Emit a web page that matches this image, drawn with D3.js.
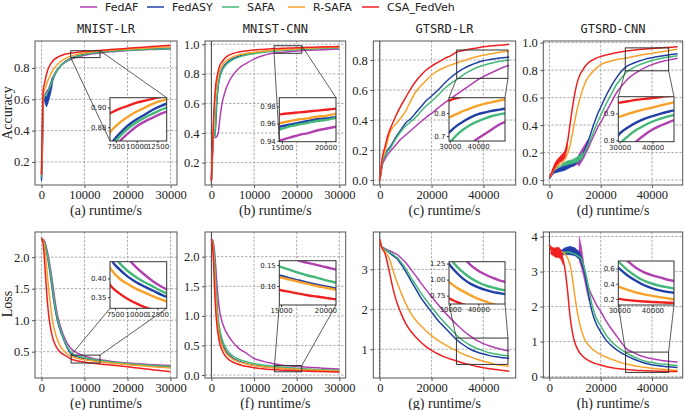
<!DOCTYPE html>
<html><head><meta charset="utf-8">
<script src="https://cdn.jsdelivr.net/npm/d3@7"></script>
<style>body{margin:0;background:#fff} svg{display:block}</style>
</head><body>
<svg id="c" width="685" height="410"></svg>
<script>
// ---------------- DATA ----------------
const seriesNames = ["FedAF","FedASY","SAFA","R-SAFA","CSA_FedVeh"];
const panelTitles = ["MNIST-LR","MNIST-CNN","GTSRD-LR","GTSRD-CNN"];
const xLabels = ["(a) runtime/s","(b) runtime/s","(c) runtime/s","(d) runtime/s","(e) runtime/s","(f) runtime/s","(g) runtime/s","(h) runtime/s"];
const yLabels = ["Accuracy","Loss"];

// (a) MNIST-LR accuracy
const aX      = [0,200,400,700,1000,1500,2000,2500,3000,4000,5000,6000,7000,8000,9000,10000,11000,12000,13000,14000,16000,18000,20000,22500,25000,27500,30000];
const aFedAF  = [0.10,0.30,0.58,0.62,0.64,0.66,0.69,0.73,0.76,0.80,0.826,0.843,0.856,0.866,0.874,0.881,0.886,0.890,0.894,0.897,0.903,0.907,0.911,0.914,0.917,0.919,0.921];
const aFedASY = [0.08,0.25,0.58,0.60,0.58,0.62,0.66,0.71,0.75,0.80,0.83,0.850,0.864,0.874,0.882,0.888,0.893,0.898,0.902,0.905,0.909,0.913,0.916,0.919,0.922,0.924,0.926];
const aSAFA   = [0.10,0.30,0.58,0.62,0.63,0.65,0.68,0.72,0.755,0.80,0.828,0.847,0.861,0.871,0.879,0.885,0.890,0.894,0.898,0.901,0.906,0.910,0.913,0.916,0.919,0.921,0.923];
const aRSAFA  = [0.12,0.35,0.62,0.66,0.68,0.72,0.75,0.78,0.80,0.83,0.852,0.866,0.877,0.885,0.891,0.896,0.900,0.904,0.907,0.909,0.913,0.917,0.920,0.924,0.928,0.932,0.936];
const aCSA    = [0.12,0.45,0.66,0.70,0.74,0.79,0.82,0.84,0.855,0.872,0.883,0.890,0.895,0.899,0.902,0.905,0.907,0.909,0.911,0.913,0.917,0.921,0.925,0.930,0.935,0.940,0.945];
// noisy band of FedASY in (a)
const aBandX  = [800,1200,1600,2000,2500];
const aBandLo = [0.57,0.55,0.58,0.62,0.68];
const aBandHi = [0.62,0.62,0.65,0.69,0.74];

// (b) MNIST-CNN accuracy
const bX      = [0,200,400,600,800,1000,1300,1600,2000,2500,3000,4000,5000,6000,7000,8000,10000,12000,14000,15000,16000,17000,18000,19000,20000,21000,22500,25000,27500,30000];
const bFedAF  = [0.08,0.22,0.37,0.37,0.37,0.37,0.38,0.40,0.50,0.60,0.66,0.74,0.79,0.825,0.85,0.868,0.90,0.922,0.937,0.941,0.944,0.947,0.949,0.952,0.954,0.956,0.959,0.962,0.965,0.968];
const bFedASY = [0.08,0.22,0.37,0.38,0.38,0.45,0.62,0.72,0.79,0.83,0.855,0.885,0.903,0.915,0.924,0.931,0.941,0.948,0.954,0.957,0.959,0.961,0.963,0.965,0.966,0.967,0.970,0.973,0.976,0.978];
const bSAFA   = [0.08,0.22,0.37,0.37,0.38,0.50,0.64,0.72,0.78,0.82,0.845,0.876,0.895,0.908,0.918,0.926,0.937,0.945,0.951,0.954,0.957,0.959,0.961,0.963,0.964,0.966,0.968,0.971,0.973,0.975];
const bRSAFA  = [0.08,0.22,0.38,0.50,0.60,0.67,0.74,0.79,0.83,0.855,0.875,0.90,0.915,0.925,0.932,0.938,0.946,0.952,0.958,0.961,0.963,0.965,0.966,0.968,0.969,0.971,0.973,0.976,0.978,0.980];
const bCSA    = [0.08,0.25,0.42,0.55,0.65,0.72,0.78,0.82,0.86,0.88,0.90,0.925,0.937,0.945,0.951,0.955,0.961,0.965,0.969,0.971,0.972,0.973,0.974,0.975,0.976,0.977,0.979,0.981,0.983,0.985];

// (c) GTSRD-LR accuracy
const cX      = [0,500,1000,2000,3000,4000,5000,6000,8000,10000,12000,14000,16000,18000,20000,22500,25000,27500,30000,32500,35000,37500,40000,42500,45000,47500,50000];
const cFedAF  = [0,0.05,0.10,0.14,0.17,0.19,0.21,0.23,0.27,0.30,0.33,0.36,0.39,0.42,0.445,0.48,0.515,0.545,0.575,0.605,0.635,0.665,0.69,0.71,0.73,0.75,0.765];
const cFedASY = [0,0.06,0.12,0.16,0.20,0.22,0.25,0.28,0.33,0.38,0.41,0.45,0.49,0.53,0.56,0.60,0.645,0.685,0.718,0.745,0.765,0.782,0.795,0.803,0.81,0.815,0.82];
const cSAFA   = [0,0.06,0.12,0.16,0.19,0.21,0.24,0.27,0.32,0.36,0.39,0.42,0.46,0.495,0.525,0.565,0.61,0.645,0.672,0.705,0.73,0.75,0.765,0.777,0.787,0.794,0.80];
const cRSAFA  = [0,0.07,0.14,0.19,0.26,0.32,0.35,0.37,0.41,0.46,0.53,0.59,0.63,0.665,0.70,0.73,0.75,0.768,0.782,0.796,0.81,0.822,0.832,0.841,0.848,0.855,0.86];
const cCSA    = [0,0.08,0.15,0.22,0.29,0.34,0.38,0.42,0.49,0.55,0.61,0.66,0.70,0.735,0.76,0.785,0.81,0.83,0.855,0.865,0.873,0.88,0.888,0.893,0.897,0.90,0.905];

// (d) GTSRD-CNN accuracy
const dX      = [0,1000,2000,3000,4000,5000,6000,7000,8000,9000,10000,11000,12000,13000,14000,15000,16000,17000,18000,19000,20000,22000,24000,26000,28000,30000,32500,35000,37500,40000,42500,45000,47500,50000];
const dFedAF  = [0.01,0.04,0.06,0.07,0.08,0.08,0.09,0.09,0.10,0.10,0.11,0.12,0.15,0.18,0.20,0.23,0.27,0.31,0.35,0.39,0.42,0.49,0.56,0.63,0.68,0.725,0.765,0.795,0.82,0.84,0.855,0.868,0.878,0.887];
const dFedASY = [0.01,0.04,0.06,0.07,0.08,0.08,0.09,0.10,0.11,0.12,0.13,0.15,0.17,0.19,0.23,0.28,0.33,0.39,0.44,0.49,0.53,0.61,0.68,0.74,0.79,0.825,0.848,0.866,0.88,0.89,0.899,0.907,0.914,0.92];
const dSAFA   = [0.02,0.05,0.08,0.09,0.10,0.11,0.12,0.13,0.13,0.14,0.15,0.16,0.17,0.18,0.21,0.25,0.29,0.34,0.39,0.43,0.47,0.55,0.62,0.69,0.74,0.785,0.815,0.838,0.855,0.87,0.881,0.89,0.897,0.904];
const dRSAFA  = [0.02,0.05,0.08,0.10,0.12,0.13,0.15,0.19,0.25,0.34,0.44,0.53,0.60,0.66,0.71,0.745,0.77,0.79,0.81,0.825,0.84,0.855,0.866,0.875,0.882,0.888,0.898,0.907,0.915,0.922,0.93,0.937,0.945,0.952];
const dCSA    = [0.02,0.06,0.10,0.13,0.15,0.17,0.20,0.27,0.40,0.53,0.64,0.72,0.77,0.80,0.83,0.85,0.865,0.875,0.885,0.893,0.90,0.91,0.918,0.926,0.933,0.94,0.945,0.95,0.954,0.957,0.961,0.964,0.967,0.97];
// noisy bands in (d)
const dBandCSAX   = [1000,2000,3000,4000,5000,6000,7000];
const dBandCSALo  = [0.05,0.08,0.11,0.13,0.14,0.16,0.23];
const dBandCSAHi  = [0.07,0.12,0.15,0.17,0.19,0.21,0.28];
const dBandASYX   = [2000,4000,6000,8000,10000,12000];
const dBandASYLo  = [0.05,0.06,0.07,0.09,0.11,0.14];
const dBandASYHi  = [0.07,0.09,0.11,0.12,0.15,0.19];
const dBandSAFAX  = [5000,7000,9000,11000,13000];
const dBandSAFALo = [0.10,0.11,0.12,0.13,0.16];
const dBandSAFAHi = [0.12,0.14,0.15,0.17,0.20];
const dBandAFX    = [11200,11500,12500,13500,14500,15500];
const dBandAFLo   = [0.11,0.10,0.13,0.16,0.20,0.24];
const dBandAFHi   = [0.12,0.19,0.22,0.25,0.28,0.30];

// (e) MNIST-LR loss
const eX      = [0,300,600,900,1200,1500,2000,2500,3000,3500,4000,5000,6000,7000,8000,9000,10000,11000,12000,13000,14000,16000,18000,20000,22500,25000,27500,30000];
const eFedAF  = [2.30,2.29,2.27,2.22,2.14,2.05,1.86,1.63,1.38,1.16,1.0,0.78,0.63,0.54,0.49,0.455,0.43,0.41,0.392,0.378,0.366,0.347,0.332,0.319,0.307,0.297,0.289,0.282];
const eFedASY = [2.30,2.28,2.24,2.17,2.08,1.97,1.75,1.5,1.25,1.06,0.92,0.72,0.56,0.455,0.425,0.405,0.39,0.378,0.367,0.356,0.347,0.33,0.315,0.302,0.288,0.276,0.266,0.256];
const eSAFA   = [2.30,2.28,2.25,2.19,2.1,2.0,1.8,1.56,1.3,1.1,0.95,0.74,0.58,0.48,0.442,0.42,0.403,0.39,0.378,0.366,0.355,0.338,0.323,0.31,0.297,0.285,0.275,0.266];
const eRSAFA  = [2.30,2.28,2.2,2.05,1.85,1.62,1.3,1.03,0.85,0.73,0.64,0.53,0.465,0.425,0.40,0.385,0.372,0.362,0.352,0.343,0.335,0.32,0.307,0.295,0.28,0.266,0.253,0.24];
const eCSA    = [2.30,2.25,2.05,1.75,1.45,1.2,0.92,0.75,0.64,0.57,0.52,0.46,0.42,0.38,0.36,0.345,0.333,0.323,0.315,0.308,0.302,0.29,0.275,0.26,0.24,0.22,0.20,0.18];

// (f) MNIST-CNN loss
const fX      = [0,250,500,750,1000,1250,1500,2000,2500,3000,3500,4000,5000,6000,7000,8000,10000,12000,14000,15000,16000,17000,18000,19000,20000,21000,22500,25000,27500,30000];
const fFedAF  = [2.30,2.28,2.22,2.08,1.85,1.58,1.35,1.05,0.9,0.8,0.72,0.66,0.56,0.48,0.42,0.38,0.28,0.235,0.20,0.185,0.172,0.16,0.155,0.15,0.145,0.14,0.133,0.122,0.11,0.10];
const fFedASY = [2.30,2.27,2.15,1.9,1.55,1.2,0.95,0.68,0.54,0.45,0.39,0.345,0.285,0.245,0.218,0.197,0.165,0.145,0.13,0.124,0.118,0.113,0.108,0.103,0.099,0.095,0.09,0.083,0.077,0.072];
const fSAFA   = [2.30,2.27,2.17,1.95,1.62,1.28,1.03,0.76,0.61,0.51,0.445,0.395,0.325,0.28,0.25,0.228,0.192,0.17,0.152,0.145,0.138,0.131,0.125,0.12,0.114,0.109,0.102,0.093,0.085,0.078];
const fRSAFA  = [2.30,2.25,2.05,1.7,1.35,1.05,0.85,0.62,0.50,0.42,0.365,0.325,0.27,0.235,0.21,0.19,0.16,0.14,0.126,0.12,0.115,0.11,0.105,0.1,0.096,0.092,0.087,0.079,0.072,0.066];
const fCSA    = [2.30,2.2,1.9,1.45,1.1,0.88,0.72,0.52,0.42,0.35,0.30,0.265,0.22,0.19,0.165,0.148,0.125,0.108,0.095,0.09,0.086,0.082,0.078,0.075,0.072,0.069,0.065,0.06,0.055,0.05];

// (g) GTSRD-LR loss
const gX      = [0,500,1000,2000,3000,4000,5000,6000,7000,8000,10000,12000,14000,16000,18000,20000,22500,25000,27500,30000,32500,35000,37500,40000,42500,45000,47500,50000];
const gFedAF  = [3.75,3.6,3.56,3.52,3.49,3.46,3.43,3.4,3.36,3.3,3.17,3.0,2.83,2.65,2.48,2.32,2.12,1.93,1.76,1.6,1.45,1.33,1.22,1.14,1.08,1.03,0.99,0.96];
const gFedASY = [3.75,3.6,3.55,3.5,3.45,3.4,3.35,3.3,3.24,3.15,2.95,2.72,2.5,2.28,2.1,1.93,1.72,1.55,1.38,1.22,1.1,1.0,0.93,0.88,0.84,0.81,0.79,0.77];
const gSAFA   = [3.75,3.6,3.55,3.5,3.46,3.42,3.38,3.33,3.28,3.2,3.02,2.8,2.6,2.4,2.22,2.05,1.85,1.67,1.5,1.33,1.2,1.1,1.02,0.96,0.91,0.88,0.85,0.83];
const gRSAFA  = [3.75,3.6,3.53,3.45,3.35,3.22,3.0,2.8,2.62,2.45,2.15,1.9,1.72,1.58,1.45,1.34,1.22,1.12,1.03,0.95,0.87,0.81,0.75,0.70,0.66,0.62,0.59,0.57];
const gCSA    = [3.75,3.6,3.52,3.4,3.15,2.85,2.55,2.3,2.1,1.93,1.65,1.45,1.3,1.17,1.06,0.97,0.88,0.81,0.75,0.70,0.65,0.61,0.57,0.54,0.51,0.49,0.47,0.45];

// (h) GTSRD-CNN loss
const hX      = [0,1000,2000,3000,4000,5000,6000,7000,8000,9000,10000,11000,12000,13000,14000,15000,16000,17000,18000,19000,20000,22000,24000,26000,28000,30000,32500,35000,37500,40000,42500,45000,47500,50000];
const hFedAF  = [3.75,3.6,3.55,3.55,3.55,3.55,3.55,3.55,3.55,3.55,3.55,3.6,3.45,3.15,2.85,2.6,2.4,2.25,2.1,1.97,1.86,1.6,1.38,1.18,0.98,0.8,0.7,0.61,0.55,0.51,0.48,0.45,0.43,0.42];
const hFedASY = [3.75,3.6,3.55,3.55,3.55,3.55,3.58,3.58,3.57,3.55,3.52,3.45,3.35,3.15,2.85,2.45,2.05,1.76,1.55,1.4,1.28,1.05,0.9,0.78,0.68,0.6,0.51,0.44,0.38,0.34,0.31,0.29,0.275,0.26];
const hSAFA   = [3.75,3.6,3.55,3.55,3.55,3.55,3.55,3.55,3.55,3.52,3.5,3.45,3.4,3.25,3.0,2.65,2.25,1.95,1.72,1.56,1.45,1.2,1.02,0.88,0.77,0.68,0.58,0.5,0.44,0.40,0.37,0.35,0.33,0.32];
const hRSAFA  = [3.75,3.6,3.55,3.55,3.55,3.55,3.5,3.4,3.2,2.8,2.25,1.8,1.45,1.2,1.03,0.92,0.84,0.77,0.72,0.67,0.63,0.56,0.5,0.45,0.4,0.36,0.32,0.285,0.26,0.24,0.22,0.205,0.19,0.18];
const hCSA    = [3.75,3.6,3.55,3.55,3.5,3.4,3.1,2.5,1.75,1.25,0.95,0.78,0.66,0.58,0.52,0.47,0.43,0.40,0.37,0.35,0.33,0.29,0.26,0.235,0.215,0.2,0.185,0.175,0.167,0.16,0.155,0.15,0.147,0.145];
// noisy bands in (h)
const hBandCSAX  = [500,1500,2500,3500,4500,5200];
const hBandCSALo = [3.50,3.45,3.40,3.40,3.35,3.20];
const hBandCSAHi = [3.72,3.68,3.68,3.70,3.62,3.45];
const hBandASYX  = [4500,6000,8000,10000,12000,13000];
const hBandASYLo = [3.48,3.48,3.48,3.45,3.32,3.12];
const hBandASYHi = [3.60,3.68,3.72,3.68,3.52,3.28];
const hBandAFX   = [11550,11650,12500,13500,14500,15500];
const hBandAFLo  = [3.55,3.30,3.10,2.80,2.45,2.15];
const hBandAFHi  = [3.60,4.00,3.70,3.20,2.75,2.35];

// tick labels
const xTicks30k = [0,10000,20000,30000];
const xTicks50k = [0,20000,40000];
const yTicksA = [0.2,0.4,0.6,0.8];
const yTicksB = [0.2,0.4,0.6,0.8,1.0];
const yTicksC = [0.0,0.2,0.4,0.6,0.8];
const yTicksD = [0.0,0.2,0.4,0.6,0.8,1.0];
const yTicksE = [0.5,1.0,1.5,2.0];
const yTicksF = [0.0,0.5,1.0,1.5,2.0];
const yTicksG = [1,2,3];
const yTicksH = [0,1,2,3,4];

// ---------------- STYLE / LAYOUT ----------------
const colors = ["#b040b0","#2040a8","#44b878","#f8a22a","#f02020"];
const svg = d3.select("#c");
const serif = "'Liberation Serif','Times New Roman',serif";
const sans = "'DejaVu Sans',sans-serif";
const mono = "'DejaVu Sans Mono',monospace";

// legend
const legX = [80,147,222,288,362];
seriesNames.forEach((n,i)=>{
  svg.append("line").attr("x1",legX[i]).attr("x2",legX[i]+17).attr("y1",7).attr("y2",7)
    .attr("stroke",colors[i]).attr("stroke-width",1.5);
  svg.append("text").attr("x",legX[i]+25).attr("y",11).text(n)
    .attr("font-family",sans).attr("font-size",11).attr("fill","#222");
});

const panels = [
 {x:aX, ys:[aFedAF,aFedASY,aSAFA,aRSAFA,aCSA], L:35,R:177,T:41,B:185, xd:[-1500,31500], yd:[0.053,0.972], xt:xTicks30k, yt:yTicksA, yf:d3.format(".1f"), title:0, zeroLine:false,
  bands:[{s:1,x:aBandX,lo:aBandLo,hi:aBandHi}],
  inset:{L:110,R:166.7,T:97.7,B:141, xd:[6800,13600], yd:[0.866,0.910], xt:[7500,10000,12500], yt:[0.88,0.90], yf:d3.format(".2f"), conn:"llur"}},
 {x:bX, ys:[bFedAF,bFedASY,bSAFA,bRSAFA,bCSA], L:205,R:345.7,T:41,B:185, xd:[-1500,31500], yd:[0.049,1.022], xt:xTicks30k, yt:yTicksB, yf:d3.format(".1f"), title:1, zeroLine:true,
  bands:[],
  inset:{L:279.3,R:336,T:97.7,B:141.7, xd:[14700,21200], yd:[0.939,0.99], xt:[15000,20000], yt:[0.94,0.96,0.98], yf:d3.format(".2f"), conn:"llur"}},
 {x:cX, ys:[cFedAF,cFedASY,cSAFA,cRSAFA,cCSA], L:373.3,R:515.7,T:41,B:185, xd:[-2500,52500], yd:[-0.033,0.927], xt:xTicks50k, yt:yTicksC, yf:d3.format(".1f"), title:2, zeroLine:true,
  bands:[],
  inset:{L:449,R:505,T:97.7,B:141, xd:[29700,49500], yd:[0.678,0.867], xt:[30000,40000], yt:[0.7,0.8], yf:d3.format(".1f"), conn:"bottom"}},
 {x:dX, ys:[dFedAF,dFedASY,dSAFA,dRSAFA,dCSA], L:543.3,R:682.7,T:41,B:185, xd:[-2400,52000], yd:[-0.036,1.012], xt:xTicks50k, yt:yTicksD, yf:d3.format(".1f"), title:3, zeroLine:false,
  bands:[{s:0,x:dBandAFX,lo:dBandAFLo,hi:dBandAFHi},{s:1,x:dBandASYX,lo:dBandASYLo,hi:dBandASYHi},{s:2,x:dBandSAFAX,lo:dBandSAFALo,hi:dBandSAFAHi},{s:4,x:dBandCSAX,lo:dBandCSALo,hi:dBandCSAHi}],
  inset:{L:618.3,R:674,T:96.7,B:141.7, xd:[29600,46500], yd:[0.795,0.962], xt:[30000,40000], yt:[0.8,0.9], yf:d3.format(".1f"), conn:"bottom"}},
 {x:eX, ys:[eFedAF,eFedASY,eSAFA,eRSAFA,eCSA], L:35,R:177,T:232,B:378, xd:[-1500,31500], yd:[0.082,2.40], xt:xTicks30k, yt:yTicksE, yf:d3.format(".1f"), zeroLine:false,
  bands:[],
  inset:{L:110,R:166.7,T:261.7,B:308.3, xd:[6900,13600], yd:[0.32,0.445], xt:[7500,10000,12500], yt:[0.35,0.40], yf:d3.format(".2f"), conn:"top"}},
 {x:fX, ys:[fFedAF,fFedASY,fSAFA,fRSAFA,fCSA], L:205,R:345.7,T:232,B:378, xd:[-1500,31500], yd:[-0.05,2.417], xt:xTicks30k, yt:yTicksF, yf:d3.format(".1f"), zeroLine:true,
  bands:[],
  inset:{L:279.3,R:336,T:260.7,B:305, xd:[14800,21200], yd:[0.055,0.16], xt:[15000,20000], yt:[0.10,0.15], yf:d3.format(".2f"), conn:"top"}},
 {x:gX, ys:[gFedAF,gFedASY,gSAFA,gRSAFA,gCSA], L:373.3,R:515.7,T:232,B:378, xd:[-2500,52500], yd:[0.28,3.936], xt:xTicks50k, yt:yTicksG, yf:d3.format("d"), zeroLine:true,
  bands:[],
  inset:{L:449,R:505,T:261.7,B:304, xd:[29600,49500], yd:[0.62,1.28], xt:[30000,40000], yt:[0.75,1.00,1.25], yf:d3.format(".2f"), conn:"top"}},
 {x:hX, ys:[hFedAF,hFedASY,hSAFA,hRSAFA,hCSA], L:543.3,R:682.7,T:232,B:378, xd:[-2400,52000], yd:[-0.04,4.13], xt:xTicks50k, yt:yTicksH, yf:d3.format("d"), zeroLine:true,
  bands:[{s:0,x:hBandAFX,lo:hBandAFLo,hi:hBandAFHi},{s:1,x:hBandASYX,lo:hBandASYLo,hi:hBandASYHi},{s:4,x:hBandCSAX,lo:hBandCSALo,hi:hBandCSAHi}],
  inset:{L:618.3,R:674,T:261,B:305, xd:[29700,46500], yd:[0.12,0.70], xt:[30000,40000], yt:[0.2,0.4,0.6], yf:d3.format(".1f"), conn:"top"}}
];

let clipId = 0;
function drawLines(g, p, xs, ys, sw, withBands){
  const id = "clip"+(clipId++);
  const [x0,x1] = xs.range(), [y1,y0] = ys.range();
  svg.append("clipPath").attr("id",id).append("rect").attr("x",x0).attr("y",y0).attr("width",x1-x0).attr("height",y1-y0);
  const lg = g.append("g").attr("clip-path",`url(#${id})`);
  p.ys.forEach((arr,i)=>{
    const line = d3.line().x((d,k)=>xs(p.x[k])).y(d=>ys(d)).curve(d3.curveMonotoneX);
    lg.append("path").datum(arr).attr("d",line).attr("fill","none")
      .attr("stroke",colors[i]).attr("stroke-width",sw).attr("stroke-linejoin","round");
    if(withBands){
      p.bands.filter(b=>b.s===i).forEach(b=>{
        const area = d3.area().x((d,k)=>xs(b.x[k])).y0((d,k)=>ys(b.lo[k])).y1((d,k)=>ys(b.hi[k])).curve(d3.curveLinear);
        lg.append("path").datum(b.x).attr("d",area).attr("fill",colors[i]).attr("stroke",colors[i]).attr("stroke-width",0.5);
      });
    }
  });
}

panels.forEach((p,pi)=>{
  const g = svg.append("g");
  const xs = d3.scaleLinear().domain(p.xd).range([p.L,p.R]);
  const ys = d3.scaleLinear().domain(p.yd).range([p.B,p.T]);
  // grid
  p.xt.forEach(v=>g.append("line").attr("x1",xs(v)).attr("x2",xs(v)).attr("y1",p.T).attr("y2",p.B)
     .attr("stroke","#999").attr("stroke-width",0.8).attr("stroke-dasharray","2.5,1.5"));
  p.yt.forEach(v=>g.append("line").attr("x1",p.L).attr("x2",p.R).attr("y1",ys(v)).attr("y2",ys(v))
     .attr("stroke","#999").attr("stroke-width",0.8).attr("stroke-dasharray","2.5,1.5"));
  if(p.zeroLine){
    g.append("line").attr("x1",xs(0)).attr("x2",xs(0)).attr("y1",p.T).attr("y2",p.B)
      .attr("stroke","#333").attr("stroke-width",0.9);
  }
  drawLines(g,p,xs,ys,1.5,true);
  // frame
  g.append("rect").attr("x",p.L).attr("y",p.T).attr("width",p.R-p.L).attr("height",p.B-p.T)
    .attr("fill","none").attr("stroke","#555").attr("stroke-width",1);
  // axes
  const ax = g.append("g").attr("transform",`translate(0,${p.B})`)
    .call(d3.axisBottom(xs).tickValues(p.xt).tickFormat(d3.format("d")).tickSizeInner(3).tickSizeOuter(0).tickPadding(2.5));
  const ay = g.append("g").attr("transform",`translate(${p.L},0)`)
    .call(d3.axisLeft(ys).tickValues(p.yt).tickFormat(p.yf).tickSizeInner(3).tickSizeOuter(0).tickPadding(2.5));
  [ax,ay].forEach(a=>{
    a.select(".domain").remove();
    a.selectAll("line").attr("stroke","#555");
    a.selectAll("text").attr("font-family",serif).attr("font-size",12.5).attr("fill","#222");
  });
  // title
  if(p.title!==undefined){
    g.append("text").attr("x",(p.L+p.R)/2).attr("y",33).attr("text-anchor","middle")
      .attr("font-family",mono).attr("font-size",12).attr("fill","#222").text(panelTitles[p.title]);
  }
  // xlabel
  g.append("text").attr("x",(p.L+p.R)/2).attr("y",p.B+30).attr("text-anchor","middle")
    .attr("font-family",serif).attr("font-size",14).attr("fill","#222").text(xLabels[pi]);

  // inset
  const q = p.inset;
  const bx0 = xs(q.xd[0]), bx1 = xs(q.xd[1]), by0 = ys(q.yd[1]), by1 = ys(q.yd[0]);
  let c1, c2;
  if(q.conn==="llur"){ c1=[[bx0,by1],[q.L,q.B]]; c2=[[bx1,by0],[q.R,q.T]]; }
  else if(q.conn==="bottom"){ c1=[[bx0,by1],[q.L,q.T]]; c2=[[bx1,by1],[q.R,q.T]]; }
  else { c1=[[bx0,by0],[q.L,q.B]]; c2=[[bx1,by0],[q.R,q.B]]; }
  const ig = svg.append("g");
  ig.append("rect").attr("x",q.L).attr("y",q.T).attr("width",q.R-q.L).attr("height",q.B-q.T).attr("fill","#fff");
  const ixs = d3.scaleLinear().domain(q.xd).range([q.L,q.R]);
  const iys = d3.scaleLinear().domain(q.yd).range([q.B,q.T]);
  drawLines(ig,p,ixs,iys,2.4,false);
  ig.append("rect").attr("x",q.L).attr("y",q.T).attr("width",q.R-q.L).attr("height",q.B-q.T)
    .attr("fill","none").attr("stroke","#333").attr("stroke-width",1);
  // box + connectors
  g.append("rect").attr("x",bx0).attr("y",by0).attr("width",bx1-bx0).attr("height",by1-by0)
    .attr("fill","none").attr("stroke","#333").attr("stroke-width",1);
  [c1,c2].forEach(c=>svg.append("line").attr("x1",c[0][0]).attr("y1",c[0][1]).attr("x2",c[1][0]).attr("y2",c[1][1])
    .attr("stroke","#333").attr("stroke-width",0.8));
  const iax = ig.append("g").attr("transform",`translate(0,${q.B})`)
    .call(d3.axisBottom(ixs).tickValues(q.xt).tickFormat(d3.format("d")).tickSizeInner(2).tickSizeOuter(0).tickPadding(1.5));
  const iay = ig.append("g").attr("transform",`translate(${q.L},0)`)
    .call(d3.axisLeft(iys).tickValues(q.yt).tickFormat(q.yf).tickSizeInner(2).tickSizeOuter(0).tickPadding(1.5));
  [iax,iay].forEach(a=>{
    a.select(".domain").remove();
    a.selectAll("line").attr("stroke","#333");
    a.selectAll("text").attr("font-family",sans).attr("font-size",7).attr("fill","#222");
  });
});

// y labels
svg.append("text").attr("transform","translate(12,113) rotate(-90)").attr("text-anchor","middle")
  .attr("font-family",serif).attr("font-size",14).attr("fill","#222").text(yLabels[0]);
svg.append("text").attr("transform","translate(12,304) rotate(-90)").attr("text-anchor","middle")
  .attr("font-family",serif).attr("font-size",14).attr("fill","#222").text(yLabels[1]);
</script>
</body></html>
